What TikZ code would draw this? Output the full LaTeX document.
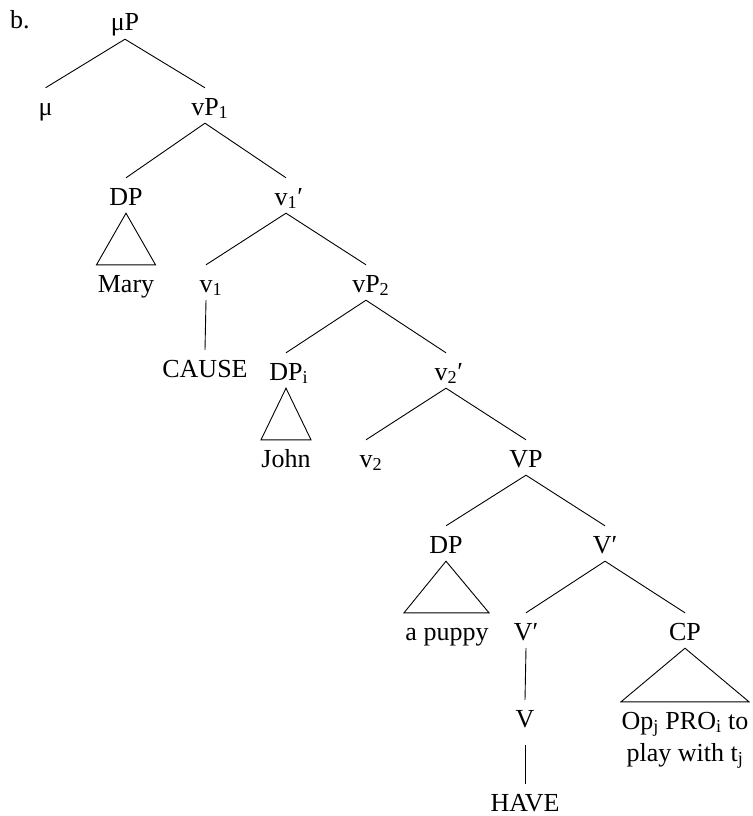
\documentclass[tikz,border=0pt]{standalone}
\usepackage{fontspec}
\setmainfont{Liberation Serif}
\usetikzlibrary{calc}
\begin{document}
\begin{tikzpicture}[x=1pt,y=-1pt,
  cat/.style={inner xsep=0pt, inner ysep=8pt, text height=19pt, text depth=0pt,
              anchor=base, font=\fontsize{26}{31}\selectfont},
  branch/.style={line width=0.9pt}]
\useasboundingbox (0,0) rectangle (752,816);

% labels of the tree
\node[cat, anchor=base west] (ex) at (10,29) {b.};
\node[cat] (muP)   at (125,31)  {μP};
\node[cat] (mu)    at (45.5,115) {μ};
\node[cat] (vP1)   at (205,115) {vP\rlap{\textsubscript{1}}};
\node[cat] (DP1)   at (126,205) {DP};
\node[cat] (v1bar) at (286,205) {v\textsubscript{1}\rlap{′}};
\node[cat] (mary)  at (126,292) {Mary};
\node[cat] (v1)    at (206,292) {v\rlap{\textsubscript{1}}};
\node[cat] (vP2)   at (366,292) {vP\rlap{\textsubscript{2}}};
\node[cat] (cause) at (205,377) {CAUSE};
\node[cat] (DP2)   at (286,380) {DP\rlap{\textsubscript{i}}};
\node[cat] (v2bar) at (446,380) {v\textsubscript{2}\rlap{′}};
\node[cat] (john)  at (286,467) {John};
\node[cat] (v2)    at (366,467) {v\rlap{\textsubscript{2}}};
\node[cat] (VP)    at (526,467) {VP};
\node[cat] (DP3)   at (446,553) {DP};
\node[cat] (Vbar1) at (605,553) {V′};
\node[cat] (puppy) at (447,640) {a puppy};
\node[cat] (Vbar2) at (526,640) {V′};
\node[cat] (CP)    at (685,640) {CP};
\node[cat] (V)     at (525,727) {V};
\node[cat] (cpa)   at (685,729) {Op\textsubscript{j} PRO\textsubscript{i} to};
\node[cat] (cpb)   at (685,761) {play with t\textsubscript{j}};
\node[cat] (have)  at (525,811) {HAVE};

% branches
\draw[branch] (muP.south) -- (mu.north);
\draw[branch] (muP.south) -- (vP1.north);
\draw[branch] (vP1.south) -- (DP1.north);
\draw[branch] (vP1.south) -- (v1bar.north);
\draw[branch] (v1bar.south) -- (v1.north);
\draw[branch] (v1bar.south) -- (vP2.north);
\draw[branch] (v1.south) -- (cause.north);
\draw[branch] (vP2.south) -- (DP2.north);
\draw[branch] (vP2.south) -- (v2bar.north);
\draw[branch] (v2bar.south) -- (v2.north);
\draw[branch] (v2bar.south) -- (VP.north);
\draw[branch] (VP.south) -- (DP3.north);
\draw[branch] (VP.south) -- (Vbar1.north);
\draw[branch] (Vbar1.south) -- (Vbar2.north);
\draw[branch] (Vbar1.south) -- (CP.north);
\draw[branch] (Vbar2.south) -- (V.north);
\draw[branch, shorten <=10pt] (V.south) -- (have.north);

% triangles over unanalysed constituents
\draw[branch] (DP1.south) -- ($(mary.north)+(-29.5,0)$) -- ($(mary.north)+(29.5,0)$) -- cycle;
\draw[branch] (DP2.south) -- ($(john.north)+(-25,0)$) -- ($(john.north)+(25,0)$) -- cycle;
\draw[branch] (DP3.south) -- ($(puppy.north)+(-43,0)$) -- ($(puppy.north)+(42,0)$) -- cycle;
\draw[branch] (CP.south) -- ($(cpa.north)+(-64,0)$) -- ($(cpa.north)+(64,0)$) -- cycle;
\end{tikzpicture}
\end{document}
